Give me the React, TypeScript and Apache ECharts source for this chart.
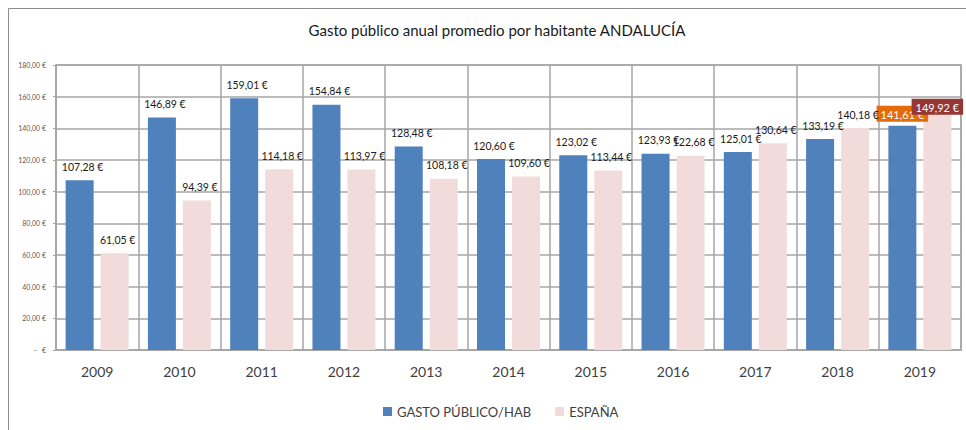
import React, { useEffect, useRef } from "react";
import * as echarts from "echarts";

const years = ["2009", "2010", "2011", "2012", "2013", "2014", "2015", "2016", "2017", "2018", "2019"];
const gastoHab = [107.28, 146.89, 159.01, 154.84, 128.48, 120.6, 123.02, 123.93, 125.01, 133.19, 141.61];
const espana = [61.05, 94.39, 114.18, 113.97, 108.18, 109.6, 113.44, 122.68, 130.64, 140.18, 149.92];
const seriesNames = ["GASTO PÚBLICO/HAB", "ESPAÑA"];
const titleText = "Gasto público anual promedio por habitante ANDALUCÍA";

const FONT = "Lato";
const fmt = (v: number) => v.toFixed(2).replace(".", ",") + "\u202F€";
const fmtAxis = (v: number) => v.toFixed(2).replace(".", ",") + " €";

function buildData(values: number[], highlightColor: string, dist: number) {
  return values.map((v, i) =>
    i === values.length - 1
      ? {
          value: v,
          label: {
            backgroundColor: highlightColor,
            color: "#ffffff",
            fontSize: 11,
            padding: [3, 4, 2, 4],
            distance: dist,
            offset: [0, 0],
          },
        }
      : v
  );
}

export default function App() {
  const ref = useRef<HTMLDivElement>(null);
  useEffect(() => {
    if (!ref.current) return;
    const chart = echarts.init(ref.current, undefined, { renderer: "svg" });
    const labelBase = {
      show: true,
      position: "top",
      distance: 8,
      offset: [3, 0],
      fontFamily: FONT,
      fontSize: 10.5,
      color: "#1a1a1a",
      formatter: (p: any) => fmt(p.value),
    };
    chart.setOption({
      animation: false,
      backgroundColor: "#ffffff",
      textStyle: { fontFamily: FONT },
      title: {
        text: titleText,
        left: 492,
        textAlign: "center",
        top: 17,
        textStyle: { fontFamily: FONT, fontSize: 15, fontWeight: "normal", color: "#1a1a1a" },
      },
      graphic: [
        {
          type: "rect",
          shape: { x: 8.5, y: 8.5, width: 2000, height: 2000 },
          style: { fill: "none", stroke: "#8c8c8c", lineWidth: 1 },
          silent: true,
        },
      ],
      legend: {
        top: 400,
        left: 378,
        itemWidth: 9,
        itemHeight: 9,
        itemGap: 24,
        icon: "rect",
        textStyle: { fontFamily: FONT, fontSize: 13, color: "#404040" },
        data: seriesNames,
      },
      grid: {
        left: 56,
        right: 5,
        top: 65,
        bottom: 80,
        show: true,
        borderColor: "#a6a6a6",
        borderWidth: 1.5,
      },
      xAxis: {
        type: "category",
        data: years,
        axisLine: { lineStyle: { color: "#a6a6a6", width: 1.5 } },
        axisTick: { show: false },
        splitLine: { show: true, lineStyle: { color: "#a6a6a6", width: 1.5 } },
        axisLabel: { fontFamily: FONT, fontSize: 14, color: "#404040", margin: 14 },
      },
      yAxis: {
        type: "value",
        min: 0,
        max: 180,
        interval: 20,
        axisLine: { show: true, lineStyle: { color: "#a6a6a6", width: 1.5 } },
        axisTick: { show: true, length: 3, lineStyle: { color: "#a6a6a6" } },
        splitLine: { show: true, lineStyle: { color: "#a6a6a6", width: 1.5 } },
        axisLabel: {
          fontFamily: FONT,
          fontSize: 7,
          color: "#595959",
          margin: 10,
          formatter: (v: number) => (v === 0 ? "-   €" : fmtAxis(v)),
        },
      },
      series: [
        {
          name: seriesNames[0],
          type: "bar",
          data: buildData(gastoHab, "#E36C09", 4),
          itemStyle: { color: "#4F81BD" },
          barWidth: 28,
          barGap: "25%",
          label: labelBase,
        },
        {
          name: seriesNames[1],
          type: "bar",
          data: buildData(espana, "#953735", -2),
          itemStyle: { color: "#F2DCDB" },
          barWidth: 28,
          label: labelBase,
        },
      ],
    });
    return () => chart.dispose();
  }, []);
  return (
    <div
      ref={ref}
      style={{ position: "absolute", left: 0, top: 0, width: 966, height: 430 }}
    />
  );
}
